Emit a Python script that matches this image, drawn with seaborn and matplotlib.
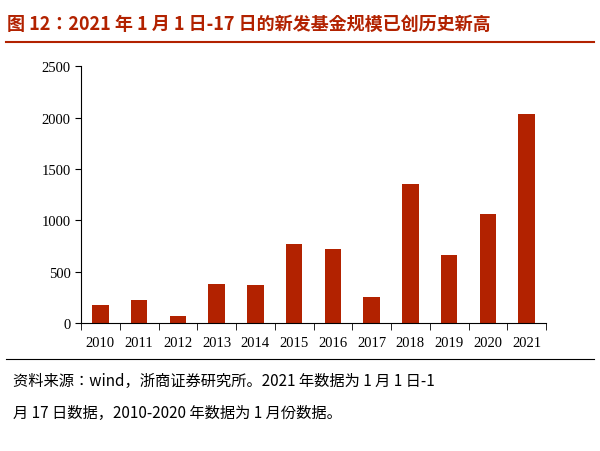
import matplotlib
matplotlib.use("Agg")
import matplotlib.pyplot as plt
import seaborn as sns
import pandas as pd

years = ["2010", "2011", "2012", "2013", "2014", "2015", "2016",
         "2017", "2018", "2019", "2020", "2021"]
scale = [175, 224, 68, 380, 370, 768, 720, 253, 1352, 661, 1060, 2033]
yticks = [0, 500, 1000, 1500, 2000, 2500]

title = "图 12：2021 年 1 月 1 日-17 日的新发基金规模已创历史新高"
note1 = "资料来源：wind，浙商证券研究所。2021 年数据为 1 月 1 日-1"
note2 = "月 17 日数据，2010-2020 年数据为 1 月份数据。"

df = pd.DataFrame({"year": years, "scale": scale})
red = "#B22200"
cjk = ["Noto Sans CJK SC", "Noto Sans CJK JP", "Noto Sans CJK TC",
       "Noto Sans CJK KR", "DejaVu Sans"]

fig = plt.figure(figsize=(6, 4.52), dpi=100)
ax = fig.add_axes([0.135, 0.283, 0.775, 0.568])
sns.barplot(data=df, x="year", y="scale", color=red, width=0.42,
            saturation=1, ax=ax)
ax.set_xlim(-0.5, len(years) - 0.5)
ax.set_ylim(0, 2500)
ax.set_yticks(yticks)
ax.set_xlabel("")
ax.set_ylabel("")
for s in ["top", "right"]:
    ax.spines[s].set_visible(False)
ax.set_xticks([i - 0.5 for i in range(len(years) + 1)], minor=True)
ax.tick_params(axis="x", which="major", length=0, pad=9)
ax.tick_params(axis="x", which="minor", length=5, direction="out")
ax.tick_params(axis="y", length=4, direction="out")
for lab in ax.get_xticklabels() + ax.get_yticklabels():
    lab.set_fontfamily("Liberation Serif")
    lab.set_fontsize(10.5)

fig.text(0.012, 0.945, title, color=red, fontsize=13, fontweight="bold",
         fontfamily=cjk, va="center")
fig.add_artist(plt.Line2D([0.01, 0.99], [0.905, 0.905], color=red, lw=1.5))
fig.add_artist(plt.Line2D([0.01, 0.99], [0.203, 0.203], color="black", lw=0.8))
fig.text(0.022, 0.155, note1, fontsize=11, fontfamily=cjk, va="center")
fig.text(0.022, 0.085, note2, fontsize=11, fontfamily=cjk, va="center")

fig.savefig("out.png", dpi=100)
